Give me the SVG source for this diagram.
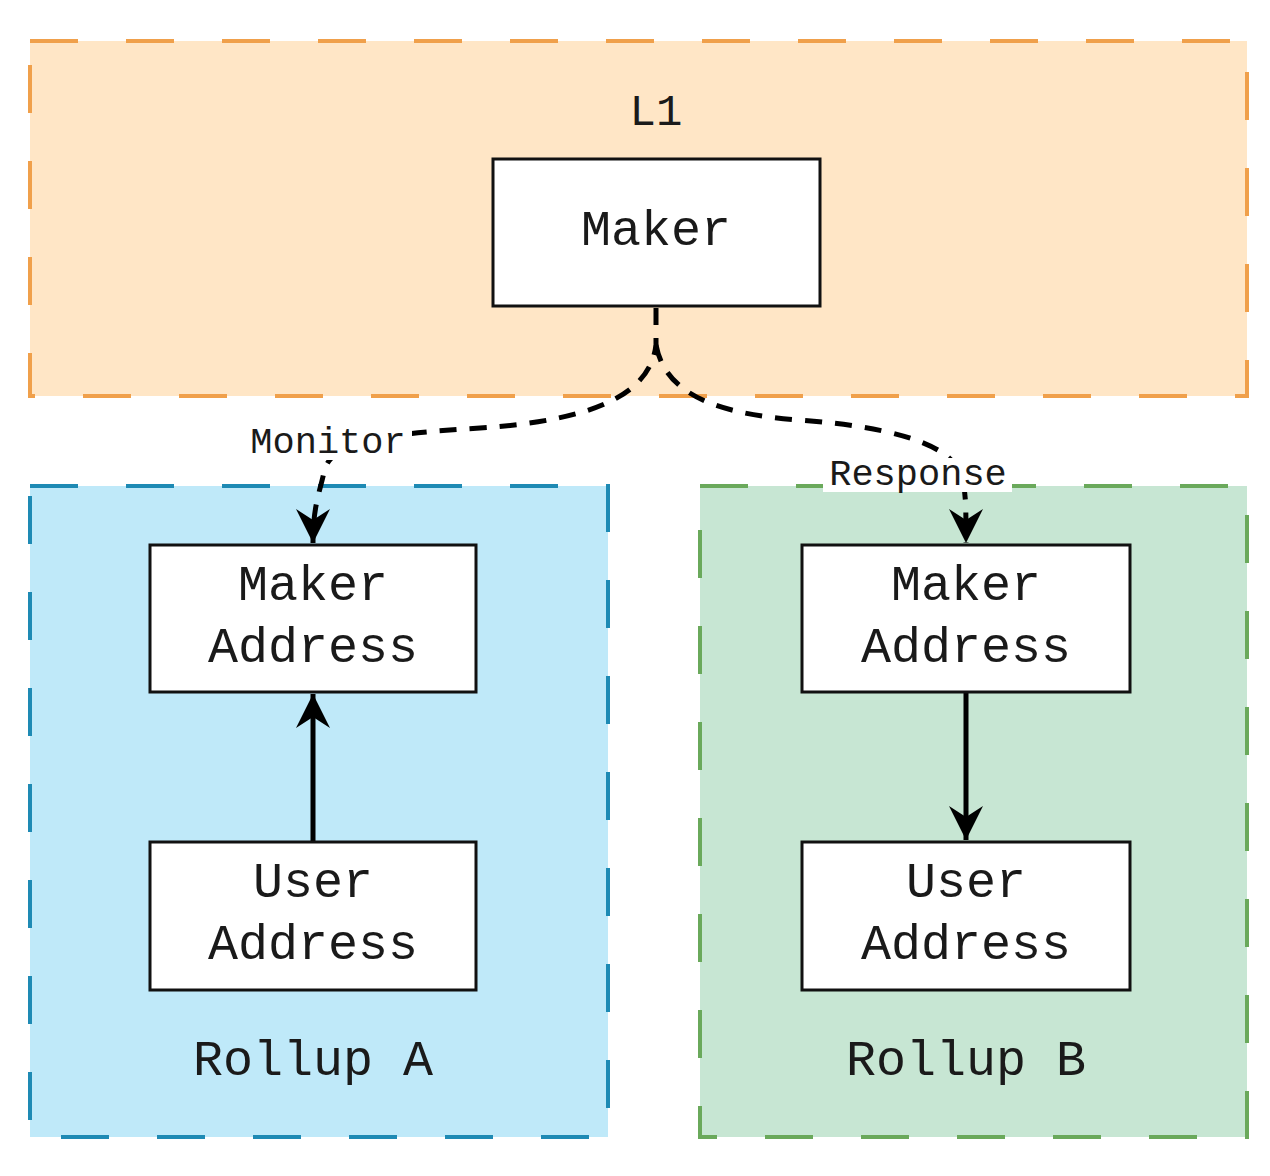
<svg xmlns="http://www.w3.org/2000/svg" width="1270" height="1176" viewBox="0 0 1270 1176">
<defs>
<style>
.mono{font-family:"Liberation Mono","Courier New",monospace;fill:#1a1a1a;text-anchor:middle}
.big{font-size:50px}
.lbl{font-size:37px}
.node{fill:#ffffff;stroke:#111;stroke-width:3}
.dash{fill:none;stroke:#000;stroke-width:5;stroke-dasharray:17 13}
.solid{fill:none;stroke:#000;stroke-width:5}
</style>
<marker id="ah" markerUnits="userSpaceOnUse" markerWidth="36" markerHeight="36" refX="34" refY="18" orient="auto" viewBox="0 0 36 36">
<path d="M0,1 L34,18 L0,35 L11,18 z" fill="#000"/>
</marker>
</defs>
<rect width="1270" height="1176" fill="#ffffff"/>
<g id="container-l1">
<rect x="30" y="41" width="1217" height="355" fill="#ffe6c6" stroke="#f0a04b" stroke-width="4" stroke-dasharray="48 48"/>
<text class="mono" x="656" y="125" font-size="44">L1</text>
</g>
<g id="container-rollup-a">
<rect x="30" y="486" width="578" height="651" fill="#bfe9f9" stroke="#1e8ab4" stroke-width="4" stroke-dasharray="48 48"/>
<text class="mono big" x="313" y="1075">Rollup A</text>
</g>
<g id="container-rollup-b">
<rect x="700" y="486" width="547" height="651" fill="#c7e6d3" stroke="#6aa95b" stroke-width="4" stroke-dasharray="48 48"/>
<text class="mono big" x="966" y="1075">Rollup B</text>
</g>
<g id="connectors">
<path class="dash" d="M656,308 L656,345 C650,392 600,420 480,428 C380,434 330,442 324,472 C320,492 313,505 313,543" marker-end="url(#ah)"/>
<path class="dash" d="M656,345 C665,392 712,414 800,420 C880,426 940,440 958,468 C966,484 966,500 966,543" marker-end="url(#ah)"/>
<path class="solid" d="M313,842 L313,694" marker-end="url(#ah)"/>
<path class="solid" d="M966,692 L966,840" marker-end="url(#ah)"/>
<g id="label-monitor">
<rect x="244" y="426" width="168" height="34" fill="#ffffff"/>
<text class="mono lbl" x="328" y="453">Monitor</text>
</g>
<g id="label-response">
<rect x="823" y="458" width="189" height="34" fill="#ffffff"/>
<text class="mono lbl" x="918" y="485">Response</text>
</g>
</g>
<g id="node-maker">
<rect class="node" x="493" y="159" width="327" height="147"/>
<text class="mono big" x="656" y="245">Maker</text>
</g>
<g id="node-maker-address-a">
<rect class="node" x="150" y="545" width="326" height="147"/>
<text class="mono big" x="313" y="600">Maker</text>
<text class="mono big" x="313" y="662">Address</text>
</g>
<g id="node-user-address-a">
<rect class="node" x="150" y="842" width="326" height="148"/>
<text class="mono big" x="313" y="897">User</text>
<text class="mono big" x="313" y="959">Address</text>
</g>
<g id="node-maker-address-b">
<rect class="node" x="802" y="545" width="328" height="147"/>
<text class="mono big" x="966" y="600">Maker</text>
<text class="mono big" x="966" y="662">Address</text>
</g>
<g id="node-user-address-b">
<rect class="node" x="802" y="842" width="328" height="148"/>
<text class="mono big" x="966" y="897">User</text>
<text class="mono big" x="966" y="959">Address</text>
</g>
</svg>
